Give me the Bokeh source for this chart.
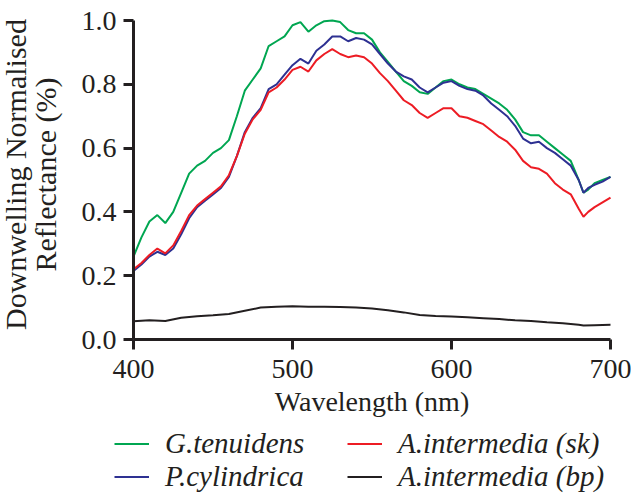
import math
from bokeh.plotting import figure
from bokeh.models import (Range1d, Legend, LegendItem, Label, LinearAxis,
                          NumeralTickFormatter, FixedTicker)
from bokeh.embed import file_html
from bokeh.resources import INLINE

wl = [400, 405, 410, 415, 420, 425, 430, 435, 440, 445, 450, 455, 460, 465, 470,
      475, 480, 485, 490, 495, 500, 505, 510, 515, 520, 525, 530, 535, 540, 545,
      550, 555, 560, 565, 570, 575, 580, 585, 590, 595, 600, 605, 610, 615, 620,
      625, 630, 635, 640, 645, 650, 655, 660, 665, 670, 675, 680, 683, 686, 690,
      695, 700]

g_tenuidens = [0.26, 0.32, 0.37, 0.39, 0.365, 0.40, 0.46, 0.52, 0.545, 0.56, 0.585,
               0.60, 0.625, 0.70, 0.78, 0.815, 0.85, 0.92, 0.935, 0.95, 0.985, 0.995,
               0.965, 0.985, 0.998, 1.0, 0.995, 0.97, 0.96, 0.96, 0.94, 0.90, 0.87,
               0.84, 0.81, 0.795, 0.775, 0.77, 0.79, 0.81, 0.815, 0.80, 0.79, 0.785,
               0.77, 0.755, 0.74, 0.72, 0.69, 0.65, 0.64, 0.64, 0.62, 0.60, 0.58,
               0.56, 0.50, 0.46, 0.47, 0.49, 0.50, 0.51]

p_cylindrica = [0.215, 0.235, 0.26, 0.275, 0.265, 0.285, 0.33, 0.38, 0.415, 0.435,
                0.455, 0.475, 0.51, 0.575, 0.65, 0.695, 0.725, 0.785, 0.80, 0.83,
                0.86, 0.88, 0.865, 0.905, 0.925, 0.95, 0.95, 0.935, 0.945, 0.94,
                0.925, 0.895, 0.865, 0.84, 0.825, 0.815, 0.79, 0.775, 0.79, 0.805,
                0.81, 0.795, 0.785, 0.78, 0.765, 0.74, 0.72, 0.70, 0.67, 0.63, 0.615,
                0.62, 0.60, 0.585, 0.565, 0.545, 0.50, 0.46, 0.475, 0.485, 0.495, 0.51]

a_intermedia_sk = [0.22, 0.24, 0.265, 0.285, 0.27, 0.295, 0.34, 0.39, 0.42, 0.44,
                   0.46, 0.48, 0.515, 0.575, 0.645, 0.69, 0.72, 0.775, 0.79, 0.815,
                   0.845, 0.855, 0.84, 0.875, 0.895, 0.91, 0.895, 0.885, 0.89, 0.885,
                   0.865, 0.835, 0.81, 0.78, 0.75, 0.735, 0.71, 0.695, 0.71, 0.725,
                   0.725, 0.70, 0.695, 0.685, 0.675, 0.655, 0.635, 0.62, 0.595, 0.56,
                   0.54, 0.535, 0.52, 0.49, 0.47, 0.455, 0.41, 0.385, 0.40, 0.415,
                   0.43, 0.445]

wl_bp = [400, 410, 420, 430, 440, 450, 460, 470, 480, 490, 500, 510, 520, 530, 540,
         550, 560, 570, 580, 590, 600, 610, 620, 630, 640, 650, 660, 670, 680, 683,
         690, 700]
a_intermedia_bp = [0.057, 0.06, 0.058, 0.068, 0.073, 0.076, 0.08, 0.09, 0.10, 0.103,
                   0.104, 0.103, 0.103, 0.102, 0.10, 0.097, 0.092, 0.085, 0.077, 0.074,
                   0.072, 0.07, 0.067, 0.064, 0.06, 0.058, 0.054, 0.051, 0.046, 0.044,
                   0.045, 0.046]

series_names = ["G.tenuidens", "P.cylindrica", "A.intermedia (sk)", "A.intermedia (bp)"]
series_colors = ["#00a651", "#2e3192", "#ed1c24", "#231f20"]

x_ticks = [400, 500, 600, 700]
y_ticks = [0.0, 0.2, 0.4, 0.6, 0.8, 1.0]

FONT = "Times New Roman"
TXT = "#231f20"
W, H = 631, 493

# pixel geometry of the axes box (the frame covers the whole canvas so that
# the legend below the axes is not clipped)
AX_L, AX_R, AX_T, AX_B = 133, 610, 20, 339
xs = (AX_R - AX_L) / 300.0
ys = (AX_B - AX_T) / 1.0
x_range = Range1d(400 - AX_L / xs, 700 + (W - AX_R) / xs)
y_range = Range1d(-(H - AX_B) / ys, 1.0 + AX_T / ys)

p = figure(width=W, height=H, output_backend="svg", toolbar_location=None,
           x_range=x_range, y_range=y_range,
           x_axis_location=None, y_axis_location=None, min_border=0)
p.xgrid.visible = False
p.ygrid.visible = False
p.outline_line_color = None

xaxis = LinearAxis(fixed_location=0, bounds=(400, 700),
                   ticker=FixedTicker(ticks=x_ticks))
yaxis = LinearAxis(fixed_location=400, bounds=(0, 1.0),
                   ticker=FixedTicker(ticks=y_ticks),
                   formatter=NumeralTickFormatter(format="0.0"))
for ax in (xaxis, yaxis):
    ax.axis_line_width = 3
    ax.axis_line_color = TXT
    ax.major_tick_line_width = 3
    ax.major_tick_line_color = TXT
    ax.major_tick_out = 10
    ax.major_tick_in = 0
    ax.minor_tick_line_color = None
    ax.major_label_text_font = FONT
    ax.major_label_text_font_size = "28px"
    ax.major_label_text_color = TXT
xaxis.major_label_standoff = 10
yaxis.major_label_standoff = 7
xaxis.axis_label = "Wavelength (nm)"
xaxis.axis_label_text_font = FONT
xaxis.axis_label_text_font_size = "28px"
xaxis.axis_label_text_font_style = "normal"
xaxis.axis_label_text_color = TXT
xaxis.axis_label_standoff = 5
p.add_layout(xaxis, "below")
p.add_layout(yaxis, "left")

for txt, sx in (("Downwelling Normalised", 15), ("Reflectance (%)", 45)):
    p.add_layout(Label(x=sx, y=H - 174, x_units="screen", y_units="screen",
                       text=txt, angle=math.pi / 2, text_align="center",
                       text_baseline="alphabetic", text_font=FONT,
                       text_font_size="30px", text_color=TXT))

rg = p.line(wl, g_tenuidens, line_color=series_colors[0], line_width=2)
rb = p.line(wl, p_cylindrica, line_color=series_colors[1], line_width=2)
rr = p.line(wl, a_intermedia_sk, line_color=series_colors[2], line_width=2)
rk = p.line(wl_bp, a_intermedia_bp, line_color=series_colors[3], line_width=2)

def make_legend(items, loc):
    return Legend(items=items, location=loc, border_line_color=None,
                  background_fill_alpha=0, padding=0, margin=0, spacing=0,
                  label_height=33, glyph_height=33, glyph_width=35,
                  label_standoff=16, label_text_font=FONT,
                  label_text_font_size="29px", label_text_font_style="italic",
                  label_text_color=TXT)

p.add_layout(make_legend([LegendItem(label=series_names[0], renderers=[rg]),
                          LegendItem(label=series_names[1], renderers=[rb])], (114, 0)))
p.add_layout(make_legend([LegendItem(label=series_names[2], renderers=[rr]),
                          LegendItem(label=series_names[3], renderers=[rk])], (347, 0)))

open("out.html", "w").write(file_html(p, INLINE))
